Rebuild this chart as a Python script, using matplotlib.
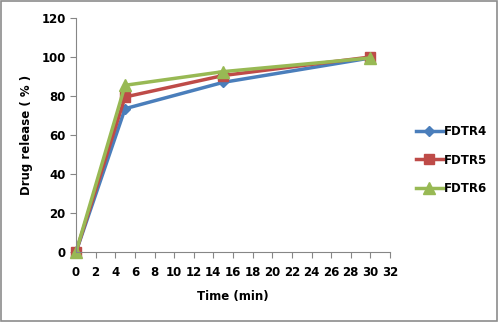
import numpy as np
import matplotlib.pyplot as plt

time_min = [0, 5, 15, 30]
fdtr4 = [0, 73.5, 87, 99.5]
fdtr5 = [0, 79.5, 90.5, 100]
fdtr6 = [0, 85.5, 92.5, 99.5]

fig = plt.figure(figsize=(4.99, 3.22), dpi=100)
ax = fig.add_axes([76/499, 1 - 252/322, (390-76)/499, (252-18)/322])

ax.plot(time_min, fdtr4, color="#4a7ebb", lw=2.5, marker="D", ms=5, label="FDTR4", clip_on=False)
ax.plot(time_min, fdtr5, color="#be4b48", lw=2.5, marker="s", ms=7.5, label="FDTR5", clip_on=False)
ax.plot(time_min, fdtr6, color="#98b954", lw=2.5, marker="^", ms=8, label="FDTR6", clip_on=False)

ax.set_xlim(0, 32)
ax.set_ylim(0, 120)
ax.set_xticks(np.arange(0, 33, 2))
ax.set_yticks(np.arange(0, 121, 20))
for s in ["top", "right"]:
    ax.spines[s].set_visible(False)
for s in ["left", "bottom"]:
    ax.spines[s].set_color("#868686")
ax.tick_params(colors="#868686", labelcolor="black", labelsize=8.5, length=4)
ax.tick_params(axis="x", pad=6)
for lab in ax.get_xticklabels() + ax.get_yticklabels():
    lab.set_fontweight("bold")
ax.set_xlabel("Time (min)", fontsize=8.5, fontweight="bold", labelpad=8)
ax.set_ylabel("Drug release ( % )", fontsize=8.5, fontweight="bold", labelpad=6)

leg = fig.legend(loc="center left", bbox_to_anchor=(405/499, 1 - 160/322), frameon=False,
                 prop={"weight": "bold", "size": 8.5}, handlelength=2.3, handletextpad=0.1,
                 labelspacing=1.3)

fig.patches.append(plt.Rectangle((0.002, 0.003), 0.994, 0.994, transform=fig.transFigure,
                                 fill=False, edgecolor="#8c8c8c", lw=1.2))
fig.savefig("out.png", dpi=100)
